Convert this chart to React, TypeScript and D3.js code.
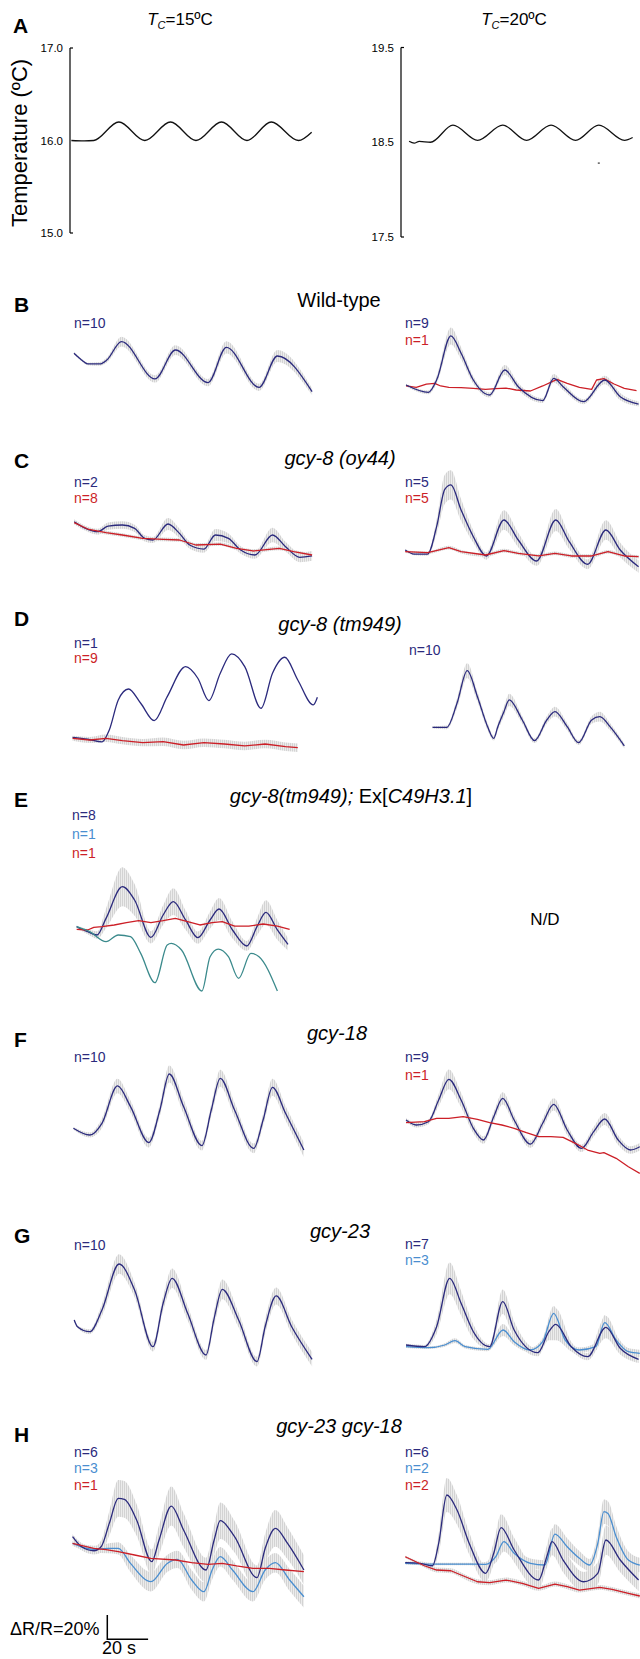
import React from "react";
import * as d3 from "d3";

// ---------- colours ----------
const NAVY = "#2b2a7d";
const RED = "#cc1f27";
const LBLUE = "#4a8ed0";
const TEAL = "#3b8a8c";

// ---------- panel A : temperature (t in s, °C) ----------
const tempLeft15: number[][] = [
  [-1.3, 16.0], [5, 15.995], [9.7, 16.0], [22, 16.2], [34.7, 16.0], [47.3, 16.2], [59.8, 16.0],
  [72.3, 16.2], [84.8, 16.0], [96.7, 16.2], [110, 16.0], [116.5, 16.09],
];
const tempRight20: number[][] = [
  [2, 18.51], [4.5, 18.49], [7, 18.51], [12.5, 18.5], [23.5, 18.68], [35.6, 18.52], [47.9, 18.68],
  [59.6, 18.52], [71.6, 18.68], [83.6, 18.52], [95, 18.68], [107.6, 18.52], [111.6, 18.55],
];
const tempStray: number[][] = [[95, 18.28]];
const tempLeftTicks = [17.0, 16.0, 15.0];
const tempRightTicks = [19.5, 18.5, 17.5];

// ---------- ΔR/R traces: [time s, ΔR/R %, SEM %] ----------
const wtLeftNavy = [[0,0,1],[3.7,-5.5,1],[6.7,-8.7,1],[12.7,-8.7,1.5],[16.1,-5.5,2],[23.3,9.6,4],[39.7,-21,3],[49.7,2.7,4],[65.7,-24,3],[74.7,4.9,5],[90.7,-27.9,3],[99.7,-2.2,5],[116.7,-31.4,3]];
const wtRightNavy = [[0.5,0,1],[11.5,-6,1.5],[15.5,4.1,3],[22.5,40.2,7],[27.5,26,5],[33.5,4.1,3],[41.5,-8.2,2],[48.9,12.3,4],[55.5,-1.4,3],[67.5,-12.8,2],[72.9,5.5,3.5],[77.5,-1.4,3],[87.5,-13.7,2],[97.9,4.1,3.5],[105.5,-9.6,3],[114.5,-15.6,2]];
const wtRightRed = [[0.5,-0.8],[5.5,-1.9],[10.5,0.8],[14.5,1.4],[17.5,-0.8],[21.5,-1.9],[27.5,-2.2],[33.5,-2.7],[39.5,-3.6],[44.5,-3],[49.5,-2.5],[54.5,-4.1],[61.5,-4.9],[67.5,-0.8],[74.5,4.6],[79.5,1.4],[85.5,-1.9],[91.5,-3.6],[93.9,4.1],[97.5,5.2],[102.5,0.8],[107.5,-2.7],[113.5,-4.6]];

const oy44LeftNavy = [[0.1,0,2],[5.7,-5.5,2],[11.7,-8.2,2.5],[16.7,-3.6,3],[23.7,-2.7,3],[29.7,-5.5,3],[34.7,-13.7,2.5],[38.7,-15,2.5],[46.1,-1.9,5],[51.7,-9.6,4],[56.7,-19.1,3],[63.7,-22.4,3],[69.3,-10.9,5],[75.7,-13.7,4],[81.7,-23.2,3],[88.7,-27.3,3],[97.3,-10.9,6],[103.7,-20.5,4],[110.7,-29.2,4],[116.7,-28.1,4]];
const oy44LeftRed = [[0.1,-0.8,1],[6.7,-6,1],[15.7,-9,1.5],[23.7,-10.9,1.5],[33.7,-13.7,1.5],[43.7,-14.5,1.5],[51.7,-15,1.5],[59.7,-19.1,1.5],[71.7,-18.3,1.5],[79.7,-21.9,1.5],[87.7,-24,1.5],[100.7,-21.9,1.5],[107.7,-24.6,1.5],[116.7,-27.3,1.5]];
const oy44RightNavy = [[0.1,0,1],[4.5,-3.3,1],[11.1,-3.3,1.5],[15.5,19.1,6],[19.5,49.7,12],[22.5,53.3,12],[27.5,32.8,9],[33.5,10.9,5],[39.9,-4.9,3],[48.5,24.6,8],[55.5,8.2,6],[64.5,-9,4],[73.9,24.6,9],[80.5,6.8,6],[89.5,-11.7,4],[98.5,16.4,8],[105.5,0,6],[114.5,-13.7,5]];
const oy44RightRed = [[0.1,-1.4,1],[11.1,-2.2,1],[21.5,1.9,1.5],[27.5,-1.4,1.5],[39.5,-4.1,1.5],[48.5,-0.5,1.5],[55.5,-2.7,1.5],[65.5,-4.9,1.5],[73.5,-2.7,1.5],[81.5,-4.9,1.5],[91.5,-4.9,1.5],[99.5,-1.4,1.5],[107.5,-4.9,1.5],[114.5,-5.5,1.5]];

const tm949LeftNavy = [[-0.7,0],[6.7,-1.6],[13.7,-3.8],[17.3,6],[21.7,30.6],[26.7,39.6],[32.7,27.9],[39.3,13.7],[45.7,33.3],[54.7,57.9],[60.7,48.4],[66.1,30.1],[71.7,52.5],[77.3,68.3],[83.7,57.9],[91.7,23.8],[97.3,52.5],[103.3,65.6],[109.7,47],[117.3,26.5],[119.3,32.8]];
const tm949LeftRed = [[-0.7,-0.8,2],[7.7,-2.2,2.5],[15.7,-0.8,3],[23.7,-2.7,3],[33.7,-4.4,3],[43.7,-3.6,3.5],[53.7,-6.3,3.5],[63.7,-4.4,3.5],[73.7,-5.5,3.5],[83.7,-7.1,3.5],[93.7,-5.5,3.5],[103.7,-7.7,3.5],[109.7,-8.5,3.5]];
const tm949RightNavy = [[13.5,0,1],[20.5,0,1.5],[25.5,19.7,4],[30.5,46.4,6],[35.5,25.1,4],[40.5,0.5,3],[43.5,-9,2],[45.5,0.5,3],[48.5,12.8,4],[51.1,22.4,5],[57.5,6,3],[63.5,-10.9,2],[69.5,6,3],[73.5,12.8,4],[79.5,0.5,3],[85.1,-12.6,2],[91.5,6,3],[95.5,8.7,4],[100.5,0.5,3],[107.5,-15.3,2]];

const rescueNavy = [[1.3,0,1],[6.7,-4.1,2],[11.3,-6.8,3],[15.7,6.8,8],[23.7,32.8,16],[29.7,21.9,13],[37.7,-8.7,5],[43.7,9.6,8],[48.7,20.5,11],[54.7,5.5,8],[60.7,-9,5],[66.7,5.5,7],[71.1,14.5,9],[77.7,-2.7,7],[84.7,-15.8,4],[89.7,0,7],[94.1,11.7,10],[99.7,-2.7,8],[104.9,-14.5,5]];
const rescueRed = [[1.3,-2.2],[6.7,-2.7],[9.7,-0.5],[13.7,0],[19.7,1.4],[25.7,3.3],[31.7,4.9],[37.7,3.3],[43.7,4.9],[49.7,6.8],[55.7,4.1],[61.7,1.4],[67.7,3.3],[72.7,4.1],[78.7,0.5],[85.7,0.5],[92.7,2.2],[99.7,0.5],[105.7,-2.2]];
const rescueTeal = [[1.3,0],[7.7,-4.1],[15.7,-12.3],[21.7,-6.8],[27.7,-8.2],[32.7,-21.9],[39.7,-45.9],[45.7,-15],[47.7,-13.7],[52.7,-19.1],[62.7,-52.7],[66.7,-24.6],[70.7,-18.3],[75.7,-24.6],[80.7,-42.3],[86.7,-21.9],[90.7,-24.6],[99.7,-52.7]];

const gcy18LeftNavy = [[-0.3,0,1],[7.7,-5.5,2],[13.7,4.1,4],[21.3,34.7,6],[27.7,17.8,5],[36.7,-11.7,4],[42.1,15,5],[46.7,44.5,7],[53.7,17.8,6],[62.7,-14.2,4],[67.3,15,5],[71.7,41,7],[78.7,15,6],[88.1,-16.4,4],[92.7,6.8,5],[97.3,33.6,7],[103.7,12.3,6],[112.7,-17.8,6]];
const gcy18RightNavy = [[0.5,0,1.5],[5.5,-4.1,2],[11.5,-1.4,2],[16.5,16.4,5],[21.5,33.3,8],[27.5,16.4,6],[33.5,-6.8,4],[38.5,-16.4,3],[43.5,2.7,4],[47.9,17.8,5],[53.5,0,4],[61.5,-19.7,3],[67.5,-2.7,4],[72.9,12.8,5],[79.5,-8.2,4],[86.5,-23.2,3],[92.5,-9.6,4],[97.9,0.8,5],[104.5,-16.4,4],[110.5,-24.6,3],[115.1,-21.9,3]];
const gcy18RightRed = [[0.5,-2.2],[9.5,-1.4],[15.5,1.4],[21.5,1.4],[28.5,2.7],[35.5,0.5],[41.5,-2.2],[47.5,-4.1],[53.5,-6.8],[59.5,-10.4],[65.5,-13.7],[71.5,-13.7],[77.5,-14.2],[83.5,-19.1],[89.5,-24.6],[95.5,-27.3],[97.5,-26.8],[103.5,-31.4],[109.5,-38.3],[115.1,-43.7]];

const gcy23LeftNavy = [[0.1,0,1],[1.7,-5.5,1],[7.7,-9.6,2],[13.7,8.2,5],[22.1,45.9,8],[29.7,24.6,6],[38.7,-21.9,4],[43.7,13.7,6],[48.1,34.2,8],[55.7,5.5,6],[64.7,-28.7,4],[68.7,1.4,6],[72.7,25.1,8],[80.7,0,6],[89.7,-34.2,4],[93.7,-5.5,6],[99.1,19.7,7],[106.7,-5.5,6],[116.7,-32.2,6]];
const gcy23RightNavy = [[0.5,0,1],[9.5,-1.4,1.5],[15.5,15,6],[21.9,54.6,13],[27.5,34.2,10],[33.5,10.9,6],[41.5,-1.4,2],[47.9,35.5,10],[53.5,12.3,7],[65.1,-6.3,3],[70.5,10.9,7],[73.9,16.9,13],[81.5,-1.4,4],[89.5,-9.6,3],[98.5,14.5,9],[105.5,-2.7,5],[114.5,-11.7,3]];
const gcy23RightBlue = [[0.5,-1.4,1],[11.5,-2.2,1],[19.5,0,1.5],[24.5,3.6,2],[29.5,-1.4,1.5],[40.5,-3.6,1.5],[48.1,12.3,5],[53.5,2.7,3],[61.5,-4.1,2],[67.5,2.7,3],[72.9,26,6],[78.5,4.1,4],[85.5,-4.1,2],[93.5,-1.4,3],[97.9,18.3,6],[103.5,4.1,4],[109.5,-5.5,3],[115.1,-6.8,3]];

const dblLeftNavy = [[-0.7,0,2],[3.7,-8.2,3],[9.7,-11.5,3],[13.3,-8.2,5],[17.3,10.9,10],[21.7,31.4,15],[24.7,30.6,15],[30.7,13.7,13],[38.1,-20.5,10],[41.7,-2.7,12],[47.7,25.1,16],[53.7,5.5,14],[64.7,-27.3,10],[68.7,-2.7,12],[71.7,13.1,15],[78.7,0,13],[89.7,-33.6,10],[93.7,-9.6,12],[98.7,6.8,15],[104.7,-5.5,13],[112.7,-27.3,12]];
const dblLeftBlue = [[-0.7,-5.5,2],[9.7,-10.4,3],[16.7,-9.6,4],[21.7,-9.6,5],[27.7,-21.9,7],[37.7,-36.9,8],[45.7,-21.9,7],[50.7,-18.6,7],[57.7,-35.5,8],[63.7,-45.1,8],[67.7,-27.3,8],[71.7,-16.4,8],[77.7,-27.3,8],[87.7,-45.1,8],[93.7,-27.3,8],[98.7,-21.3,8],[105.7,-35.5,9],[112.7,-49.2,9]];
const dblLeftRed = [[-0.7,-5.5],[9.7,-9.6],[15.7,-10.6],[21.7,-12.3],[29.7,-15],[37.7,-17.8],[49.7,-19.1],[57.7,-21.3],[65.7,-22.7],[72.7,-21.9],[79.7,-24],[87.7,-25.9],[95.7,-25.9],[103.7,-27.3],[112.7,-28.7]];
const dblRightNavy = [[0.1,0,1],[7.5,-0.5,1.5],[13.5,-2.5,2],[16.5,15.8,8],[20.5,55.5,14],[25.5,43.2,12],[31.5,15.8,9],[39.5,-8.7,7],[43.5,7.7,9],[47.1,28.7,11],[53.5,10.4,10],[65.5,-14.2,8],[69.5,4.9,9],[72.1,17.2,11],[77.5,2.2,10],[87.5,-15.6,8],[94.5,-8.7,9],[98.5,18.6,12],[105.5,2.2,10],[114.5,-14.2,9]];
const dblRightBlue = [[0.1,-0.5,1],[11.5,-1.1,1],[21.5,-1.1,1],[31.5,-1.1,1],[39.5,-1.4,2],[44.5,4.9,5],[48.5,17.2,8],[53.5,7.7,6],[61.5,-0.5,4],[68.5,-1.9,4],[73.5,23.5,8],[79.5,13.1,7],[85.5,3.6,6],[90.5,-1.9,5],[94.5,15.8,8],[97.5,41.8,10],[99.5,40.4,10],[103.5,21.3,9],[109.5,2.2,7],[115.1,-1.9,6]];
const dblRightRed = [[0.1,4.9,1],[3.5,2.2,1],[9.5,-2.5,1.5],[15.5,-6,2],[22.5,-6.6,2],[27.5,-10.1,2],[35.5,-15.6,2],[41.5,-16.4,2],[49.5,-14.2,2],[57.5,-16.9,2],[65.5,-21,2],[73.5,-17.5,2],[79.5,-19.7,2],[85.5,-22.4,2],[95.5,-20.2,2],[101.5,-21.9,2],[109.5,-25.1,2],[115.1,-27.3,2]];

// ---------- layout (pixels) ----------
const W = 640, H = 1659;
const X_LEFT = 74, X_RIGHT = 405;
const PX_PER_S = 2.04, PX_PER_PCT = 1.22;
const FONT = "'Liberation Sans', Arial, Helvetica, sans-serif";

type Tr = { pts: number[][]; color: string; noisy?: boolean };
type Lab = { text: string; color: string };
type Sub = { x0: number; base: number; labelX: number; labelY: number[]; labels: Lab[]; traces: Tr[] } | null;
type Panel = { letter: string; letterY: number; titleY: number; titleX: number; title: { s: string; it: boolean }[]; left: Sub; right: Sub | "ND" };

const panels: Panel[] = [
  { letter: "B", letterY: 312, titleY: 307, titleX: 339, title: [{ s: "Wild-type", it: false }],
    left: { x0: X_LEFT, base: 353.3, labelX: 74, labelY: [328], labels: [{ text: "n=10", color: NAVY }], traces: [{ pts: wtLeftNavy, color: NAVY }] },
    right: { x0: X_RIGHT, base: 385, labelX: 405, labelY: [328, 345], labels: [{ text: "n=9", color: NAVY }, { text: "n=1", color: RED }],
      traces: [{ pts: wtRightRed, color: RED, noisy: true }, { pts: wtRightNavy, color: NAVY }] } },
  { letter: "C", letterY: 468, titleY: 465, titleX: 340, title: [{ s: "gcy-8 (oy44)", it: true }],
    left: { x0: X_LEFT, base: 521.7, labelX: 74, labelY: [487, 503], labels: [{ text: "n=2", color: NAVY }, { text: "n=8", color: RED }],
      traces: [{ pts: oy44LeftNavy, color: NAVY }, { pts: oy44LeftRed, color: RED, noisy: true }] },
    right: { x0: X_RIGHT, base: 550, labelX: 405, labelY: [487, 503], labels: [{ text: "n=5", color: NAVY }, { text: "n=5", color: RED }],
      traces: [{ pts: oy44RightNavy, color: NAVY }, { pts: oy44RightRed, color: RED, noisy: true }] } },
  { letter: "D", letterY: 626, titleY: 631, titleX: 340, title: [{ s: "gcy-8 (tm949)", it: true }],
    left: { x0: X_LEFT, base: 737.3, labelX: 74, labelY: [648, 663], labels: [{ text: "n=1", color: NAVY }, { text: "n=9", color: RED }],
      traces: [{ pts: tm949LeftNavy, color: NAVY }, { pts: tm949LeftRed, color: RED, noisy: true }] },
    right: { x0: X_RIGHT, base: 727.3, labelX: 409, labelY: [655], labels: [{ text: "n=10", color: NAVY }], traces: [{ pts: tm949RightNavy, color: NAVY }] } },
  { letter: "E", letterY: 807, titleY: 803, titleX: 351,
    title: [{ s: "gcy-8(tm949);", it: true }, { s: " Ex[", it: false }, { s: "C49H3.1", it: true }, { s: "]", it: false }],
    left: { x0: X_LEFT, base: 926.7, labelX: 72, labelY: [820, 839, 858], labels: [{ text: "n=8", color: NAVY }, { text: "n=1", color: LBLUE }, { text: "n=1", color: RED }],
      traces: [{ pts: rescueNavy, color: NAVY }, { pts: rescueRed, color: RED, noisy: true }, { pts: rescueTeal, color: TEAL }] },
    right: "ND" },
  { letter: "F", letterY: 1047, titleY: 1040, titleX: 337, title: [{ s: "gcy-18", it: true }],
    left: { x0: X_LEFT, base: 1128.3, labelX: 74, labelY: [1062], labels: [{ text: "n=10", color: NAVY }], traces: [{ pts: gcy18LeftNavy, color: NAVY }] },
    right: { x0: X_RIGHT, base: 1120, labelX: 405, labelY: [1062, 1080], labels: [{ text: "n=9", color: NAVY }, { text: "n=1", color: RED }],
      traces: [{ pts: gcy18RightNavy, color: NAVY }, { pts: gcy18RightRed, color: RED, noisy: true }] } },
  { letter: "G", letterY: 1243, titleY: 1238, titleX: 340, title: [{ s: "gcy-23", it: true }],
    left: { x0: X_LEFT, base: 1320, labelX: 74, labelY: [1250], labels: [{ text: "n=10", color: NAVY }], traces: [{ pts: gcy23LeftNavy, color: NAVY }] },
    right: { x0: X_RIGHT, base: 1345, labelX: 405, labelY: [1249, 1265], labels: [{ text: "n=7", color: NAVY }, { text: "n=3", color: LBLUE }],
      traces: [{ pts: gcy23RightBlue, color: LBLUE }, { pts: gcy23RightNavy, color: NAVY }] } },
  { letter: "H", letterY: 1442, titleY: 1433, titleX: 339, title: [{ s: "gcy-23 gcy-18", it: true }],
    left: { x0: X_LEFT, base: 1536.7, labelX: 74, labelY: [1457, 1473, 1490], labels: [{ text: "n=6", color: NAVY }, { text: "n=3", color: LBLUE }, { text: "n=1", color: RED }],
      traces: [{ pts: dblLeftBlue, color: LBLUE }, { pts: dblLeftNavy, color: NAVY }, { pts: dblLeftRed, color: RED, noisy: true }] },
    right: { x0: X_RIGHT, base: 1562.7, labelX: 405, labelY: [1457, 1473, 1490], labels: [{ text: "n=6", color: NAVY }, { text: "n=2", color: LBLUE }, { text: "n=2", color: RED }],
      traces: [{ pts: dblRightBlue, color: LBLUE }, { pts: dblRightNavy, color: NAVY }, { pts: dblRightRed, color: RED, noisy: true }] } },
];

function SubPlot({ sub }: { sub: Exclude<Sub, null> }) {
  const x = d3.scaleLinear().domain([0, 20]).range([sub.x0, sub.x0 + 20 * PX_PER_S]);
  const y = d3.scaleLinear().domain([0, 20]).range([sub.base, sub.base - 20 * PX_PER_PCT]);
  const bands = sub.traces.filter((t) => t.pts[0].length > 2);
  return (
    <g>
      {bands.map((t, i) => {
        const area = d3.area<number[]>()
          .x((d) => x(d[0]))
          .y0((d) => y(d[1] - d[2]))
          .y1((d) => y(d[1] + d[2]))
          .curve(d3.curveMonotoneX);
        return <path key={"b" + i} d={area(t.pts) || ""} fill="url(#semHatch)" stroke="none" />;
      })}
      {sub.traces.map((t, i) => {
        const line = d3.line<number[]>()
          .x((d) => x(d[0]))
          .y((d) => y(d[1]))
          .curve(t.noisy ? d3.curveLinear : d3.curveMonotoneX);
        return <path key={"l" + i} d={line(t.pts) || ""} fill="none" stroke={t.color} strokeWidth={1.3} strokeLinejoin="round" />;
      })}
      {sub.labels.map((l, i) => (
        <text key={"n" + i} x={sub.labelX} y={sub.labelY[i]} fill={l.color} fontSize={14} fontFamily={FONT}>{l.text}</text>
      ))}
    </g>
  );
}

function TempPanel({ data, axisX, x0, domain, yRange, ticks, stray }: any) {
  const x = d3.scaleLinear().domain([0, 20]).range([x0, x0 + 20 * PX_PER_S]);
  const y = d3.scaleLinear().domain(domain).range(yRange);
  const line = d3.line<number[]>().x((d) => x(d[0])).y((d) => y(d[1])).curve(d3.curveMonotoneX);
  const [lo, hi] = domain;
  return (
    <g>
      <line x1={axisX} x2={axisX} y1={y(hi)} y2={y(lo)} stroke="#000" strokeWidth={1.2} />
      <line x1={axisX} x2={axisX + 3} y1={y(hi)} y2={y(hi)} stroke="#000" strokeWidth={1.2} />
      <line x1={axisX} x2={axisX + 3} y1={y(lo)} y2={y(lo)} stroke="#000" strokeWidth={1.2} />
      {ticks.map((t: number) => (
        <text key={t} x={axisX - 7} y={y(t) + 4} textAnchor="end" fontSize={11.5} fontFamily={FONT}>{t.toFixed(1)}</text>
      ))}
      <path d={line(data) || ""} fill="none" stroke="#111" strokeWidth={1.3} />
      {stray && stray.map((d: number[], i: number) => (
        <rect key={i} x={x(d[0]) - 1} y={y(d[1]) - 0.6} width={2} height={1.2} fill="#333" />
      ))}
    </g>
  );
}

export default function App() {
  const sbX = d3.scaleLinear().domain([0, 20]).range([107.3, 107.3 + 20 * PX_PER_S]);
  const sbY = d3.scaleLinear().domain([0, 20]).range([1639.3, 1639.3 - 20 * PX_PER_PCT]);
  return (
    <svg width={W} height={H} viewBox={`0 0 ${W} ${H}`} style={{ position: "absolute", left: 0, top: 0, background: "#fff" }} fontFamily={FONT}>
      <defs>
        <pattern id="semHatch" width={2} height={8} patternUnits="userSpaceOnUse">
          <rect width={2} height={8} fill="#ececec" />
          <line x1={0.5} x2={0.5} y1={0} y2={8} stroke="#cdcdcd" strokeWidth={0.8} />
        </pattern>
      </defs>
      <rect width={W} height={H} fill="#fff" />

      {/* Panel A */}
      <text x={13} y={33} fontSize={21} fontWeight="bold">A</text>
      <text x={180} y={25} textAnchor="middle" fontSize={17}>
        <tspan fontStyle="italic">T</tspan>
        <tspan fontStyle="italic" fontSize={11} dy={4}>C</tspan>
        <tspan dy={-4}>=15ºC</tspan>
      </text>
      <text x={514} y={25} textAnchor="middle" fontSize={17}>
        <tspan fontStyle="italic">T</tspan>
        <tspan fontStyle="italic" fontSize={11} dy={4}>C</tspan>
        <tspan dy={-4}>=20ºC</tspan>
      </text>
      <text transform="translate(27,143) rotate(-90)" textAnchor="middle" fontSize={22}>Temperature (ºC)</text>
      <TempPanel data={tempLeft15} axisX={70} x0={X_LEFT} domain={[15, 17]} yRange={[233, 48]} ticks={tempLeftTicks} />
      <TempPanel data={tempRight20} axisX={401} x0={X_RIGHT} domain={[17.5, 19.5]} yRange={[237, 47.5]} ticks={tempRightTicks} stray={tempStray} />

      {/* Panels B-H */}
      {panels.map((p) => (
        <g key={p.letter}>
          <text x={14} y={p.letterY} fontSize={21} fontWeight="bold">{p.letter}</text>
          <text x={p.titleX} y={p.titleY} textAnchor="middle" fontSize={20}>
            {p.title.map((s, i) => (
              <tspan key={i} fontStyle={s.it ? "italic" : "normal"}>{s.s}</tspan>
            ))}
          </text>
          {p.left && <SubPlot sub={p.left} />}
          {p.right === "ND" ? (
            <text x={545} y={925} textAnchor="middle" fontSize={17}>N/D</text>
          ) : p.right ? <SubPlot sub={p.right} /> : null}
        </g>
      ))}

      {/* scale bar */}
      <path d={`M${sbX(0)},${sbY(20)} L${sbX(0)},${sbY(0)} L${sbX(20)},${sbY(0)}`} fill="none" stroke="#000" strokeWidth={1.5} />
      <text x={99.5} y={1635} textAnchor="end" fontSize={18}>ΔR/R=20%</text>
      <text x={119} y={1654} textAnchor="middle" fontSize={18}>20 s</text>
    </svg>
  );
}
